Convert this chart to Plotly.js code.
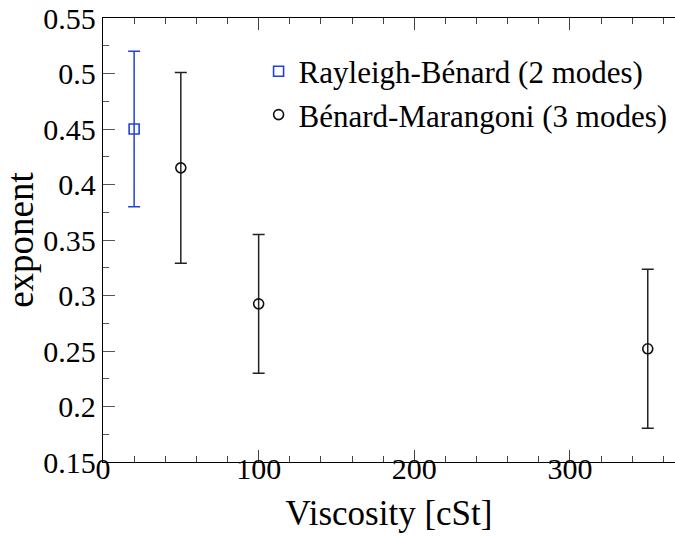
<!DOCTYPE html>
<html>
<head>
<meta charset="utf-8">
<script src="https://cdn.plot.ly/plotly-3.0.1.min.js"></script>
<style>html,body{margin:0;padding:0;background:#fff;overflow:hidden;}</style>
</head>
<body>
<div id="chart" style="width:675px;height:536px;"></div>
<script>
// Rayleigh-Bénard (2 modes)
const rbViscosity = [20];
const rbExponent = [0.45];
const rbError = [0.07];

// Bénard-Marangoni (3 modes)
const bmViscosity = [50, 100, 350];
const bmExponent = [0.415, 0.2925, 0.252];
const bmError = [0.086, 0.0625, 0.0717];

const rbName = 'Rayleigh-Bénard (2 modes)';
const bmName = 'Bénard-Marangoni (3 modes)';
const xTitle = 'Viscosity [cSt]';
const yTitle = 'exponent';

const serif = '"Liberation Serif", "Times New Roman", serif';
const blue = 'rgb(32,64,230)';
const black = '#111';

const traces = [
  {
    x: rbViscosity, y: rbExponent, name: rbName, type: 'scatter', mode: 'markers',
    marker: {symbol: 'square-open', size: 10, color: blue, line: {width: 1.6, color: blue}},
    error_y: {type: 'data', array: rbError, visible: true, color: blue, thickness: 1.5, width: 6}
  },
  {
    x: bmViscosity, y: bmExponent, name: bmName, type: 'scatter', mode: 'markers',
    marker: {symbol: 'circle-open', size: 10, color: black, line: {width: 1.6, color: black}},
    error_y: {type: 'data', array: bmError, visible: true, color: '#222', thickness: 1.5, width: 6}
  }
];

const layout = {
  width: 675, height: 536,
  margin: {l: 103.3, r: 0, t: 17.7, b: 73.5},
  paper_bgcolor: '#fff', plot_bgcolor: '#fff',
  font: {family: serif, color: '#000', size: 30},
  showlegend: true,
  legend: {
    x: 0.272, y: 0.94, xanchor: 'left', yanchor: 'top',
    bgcolor: 'rgba(0,0,0,0)', borderwidth: 0,
    font: {family: serif, size: 31, color: '#000'},
    itemwidth: 30, tracegroupgap: 0
  },
  xaxis: {
    range: [0, 367.5], showgrid: false, zeroline: false,
    showline: true, linecolor: '#000', linewidth: 1.3, mirror: 'ticks',
    ticks: 'inside', ticklen: 12, tickwidth: 1, tickcolor: '#444',
    tick0: 0, dtick: 100, ticklabelstandoff: -20,
    minor: {ticks: 'inside', ticklen: 6, tickwidth: 1, tickcolor: '#444', dtick: 20, showgrid: false},
    tickfont: {family: serif, size: 30, color: '#000'},
    title: {text: xTitle, font: {family: serif, size: 35, color: '#000'}, standoff: 16}
  },
  yaxis: {
    range: [0.15, 0.55], showgrid: false, zeroline: false,
    showline: true, linecolor: '#000', linewidth: 1.3, mirror: false,
    ticks: 'inside', ticklen: 12, tickwidth: 1, tickcolor: '#555',
    tick0: 0.15, dtick: 0.05,
    minor: {ticks: 'inside', ticklen: 6, tickwidth: 1, tickcolor: '#555', dtick: 0.025, showgrid: false},
    tickfont: {family: serif, size: 30, color: '#000'},
    title: {text: yTitle, font: {family: serif, size: 37, color: '#000'}, standoff: 16}
  }
};

Plotly.newPlot('chart', traces, layout, {displayModeBar: false, staticPlot: true});
</script>
</body>
</html>
